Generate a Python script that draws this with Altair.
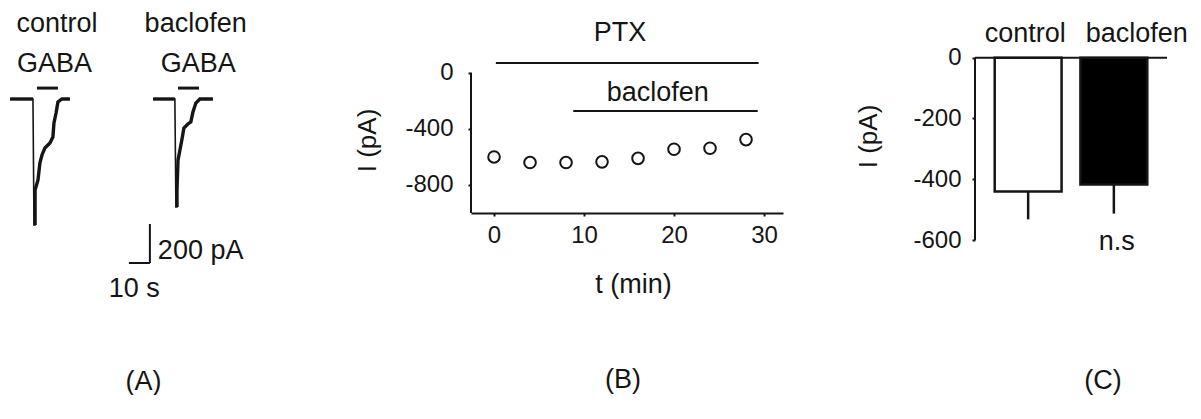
import altair as alt
import pandas as pd

FONT = "Liberation Sans"
INK = "#151515"

# ---------------- Panel A: GABA-evoked current traces (t in s, I in pA)
ctrl_t = [4.8, 15.7, 16.2, 16.7, 16.7, 18.1, 19.0, 20.0, 21.4, 23.8, 25.2, 25.7, 26.7, 27.6, 29.5, 33.3]
ctrl_I = [0, 0, -646, -646, -467, -415, -328, -287, -251, -226, -195, -123, -72, -15, 0, 0]
bac_t = [72.9, 83.3, 83.8, 84.3, 84.3, 84.8, 85.7, 86.7, 87.6, 89.5, 90.9, 91.9, 93.3, 95.2, 101.4]
bac_I = [0, 0, -554, -554, -467, -313, -262, -205, -149, -128, -118, -67, -21, 0, 0]
gaba_start = [17.6, 84.8]
gaba_end = [27.6, 94.8]
gaba_level = [56, 56]
a_labels = ["control", "GABA", "baclofen", "GABA"]
a_label_t = [27.1, 26.0, 93.2, 94.4]
a_label_I = [385, 179, 385, 179]
sb_t0 = [61.4, 71.4]
sb_t1 = [71.4, 71.4]
sb_I0 = [-841, -841]
sb_I1 = [-841, -641]
sb_labels = ["200 pA", "10 s"]
sb_label_t = [75.2, 64.0]
sb_label_I = [-779, -974]

# ---------------- Panel B: time course
b_t = [0, 4, 8, 12, 16, 20, 24, 28]
b_I = [-600, -640, -640, -635, -610, -545, -538, -476]
bar_names = ["PTX", "baclofen"]
bar_t0 = [0.2, 8.8]
bar_t1 = [29.4, 29.3]
bar_I = [71, -272]
bar_label_t = [14.0, 18.2]
bar_label_I = [285, -143]

# ---------------- Panel C: mean currents
cats = ["control", "baclofen"]
means = [-440, -417]
err_end = [-532, -513]
fills = ["white", "black"]

# ======== Panel A
xA = alt.Scale(domain=[0, 132.9], nice=False, zero=False)
yA = alt.Scale(domain=[-1030.8, 507.7], nice=False, zero=False)

traces = pd.concat([
    pd.DataFrame({"trace": "control", "order": range(len(ctrl_t)), "t": ctrl_t, "I": ctrl_I}),
    pd.DataFrame({"trace": "baclofen", "order": range(len(bac_t)), "t": bac_t, "I": bac_I}),
])
A_thin = alt.Chart(traces).mark_line(color=INK, strokeWidth=1.6).encode(
    x=alt.X("t:Q", scale=xA, axis=None),
    y=alt.Y("I:Q", scale=yA, axis=None),
    detail="trace:N",
    order="order:Q",
)
A_thick = alt.Chart(traces).transform_filter("datum.order != 2").transform_calculate(
    seg="datum.trace + (datum.order <= 1 ? '_base' : '_rec')"
).mark_line(color=INK, strokeWidth=3.4).encode(
    x=alt.X("t:Q", scale=xA, axis=None),
    y=alt.Y("I:Q", scale=yA, axis=None),
    detail="seg:N",
    order="order:Q",
)
gdf = pd.DataFrame({"t0": gaba_start, "t1": gaba_end, "I": gaba_level})
A_gaba = alt.Chart(gdf).mark_rule(color=INK, strokeWidth=3).encode(
    x=alt.X("t0:Q", scale=xA, axis=None), x2="t1:Q",
    y=alt.Y("I:Q", scale=yA, axis=None),
)
adf = pd.DataFrame({"label": a_labels, "t": a_label_t, "I": a_label_I})
A_text = alt.Chart(adf).mark_text(font=FONT, fontSize=27, color=INK, align="center", baseline="middle").encode(
    x=alt.X("t:Q", scale=xA, axis=None), y=alt.Y("I:Q", scale=yA, axis=None), text="label:N"
)
sbdf = pd.DataFrame({"t0": sb_t0, "t1": sb_t1, "I0": sb_I0, "I1": sb_I1})
A_sb = alt.Chart(sbdf).mark_rule(color=INK, strokeWidth=2).encode(
    x=alt.X("t0:Q", scale=xA, axis=None), x2="t1:Q",
    y=alt.Y("I0:Q", scale=yA, axis=None), y2="I1:Q",
)
sbl = pd.DataFrame({"label": sb_labels, "t": sb_label_t, "I": sb_label_I})
A_sbl1 = alt.Chart(sbl.iloc[[0]]).mark_text(font=FONT, fontSize=27, color=INK, align="left", baseline="middle").encode(
    x=alt.X("t:Q", scale=xA, axis=None), y=alt.Y("I:Q", scale=yA, axis=None), text="label:N"
)
A_sbl2 = alt.Chart(sbl.iloc[[1]]).mark_text(font=FONT, fontSize=27, color=INK, align="center", baseline="middle").encode(
    x=alt.X("t:Q", scale=xA, axis=None), y=alt.Y("I:Q", scale=yA, axis=None), text="label:N"
)

def panel_title(txt, offset, dx):
    return alt.TitleParams(txt, orient="bottom", anchor="middle", frame="group", offset=offset, dx=dx,
                           font=FONT, fontSize=27, fontWeight="normal", color=INK)

panelA = alt.layer(A_thin, A_thick, A_gaba, A_text, A_sb, A_sbl1, A_sbl2).properties(
    width=279, height=300, title=panel_title("(A)", 67, 4)
)

# ======== Panel B
xB = alt.Scale(domain=[-2.56, 32.11], nice=False, zero=False)
yB = alt.Scale(domain=[-1000, 520], nice=False, zero=False)
bdf = pd.DataFrame({"t": b_t, "I": b_I})
B_pts = alt.Chart(bdf).mark_point(shape="circle", filled=False, size=135, strokeWidth=2, color=INK, opacity=1).encode(
    x=alt.X("t:Q", scale=xB, axis=alt.Axis(
        values=[0, 10, 20, 30], title="t (min)", grid=False,
        domainColor=INK, domainWidth=2, tickColor=INK, tickWidth=2, tickSize=3,
        labelPadding=7, labelFont=FONT, labelFontSize=24, labelColor=INK,
        titleFont=FONT, titleFontSize=27, titleFontWeight="normal", titleColor=INK,
        titlePadding=24, titleX=162)),
    y=alt.Y("I:Q", scale=yB, axis=alt.Axis(
        values=[0, -400, -800], title="I (pA)", grid=False, domain=False,
        tickColor=INK, tickWidth=2, tickSize=3, labelExpr="toString(datum.value)",
        labelPadding=15, labelFont=FONT, labelFontSize=24, labelColor=INK,
        titleFont=FONT, titleFontSize=26, titleFontWeight="normal", titleColor=INK,
        titleX=-104, titleY=140, titleAlign="center", titleBaseline="middle")),
)
axB = pd.DataFrame({"y0": [0], "y1": [-1000]})
B_axis = alt.Chart(axB).mark_rule(color=INK, strokeWidth=2).encode(
    x=alt.value(0), y=alt.Y("y0:Q", scale=yB), y2="y1:Q"
)
bl = pd.DataFrame({"name": bar_names, "t0": bar_t0, "t1": bar_t1, "I": bar_I,
                   "lt": bar_label_t, "lI": bar_label_I})
B_bars = alt.Chart(bl).mark_rule(color=INK, strokeWidth=2).encode(
    x=alt.X("t0:Q", scale=xB), x2="t1:Q", y=alt.Y("I:Q", scale=yB)
)
B_text = alt.Chart(bl).mark_text(font=FONT, fontSize=27, color=INK, align="center", baseline="middle").encode(
    x=alt.X("lt:Q", scale=xB), y=alt.Y("lI:Q", scale=yB), text="name:N"
)
panelB = alt.layer(B_pts, B_axis, B_bars, B_text).properties(
    width=312, height=213, title=panel_title("(B)", 70, -4)
)

# ======== Panel C
xC = alt.Scale(domain=cats, paddingInner=0.22, paddingOuter=0.23)
yC = alt.Scale(domain=[-600, 190], nice=False, zero=False)
cdf = pd.DataFrame({"cat": cats, "mean": means, "err": err_end, "zero": [0, 0]})
C_bars = alt.Chart(cdf).mark_bar(stroke=INK, strokeWidth=2.5).encode(
    x=alt.X("cat:N", scale=xC, axis=None, sort=cats),
    y=alt.Y("mean:Q", scale=yC, axis=alt.Axis(
        values=[0, -200, -400, -600], title="I (pA)", grid=False, domain=False,
        tickColor=INK, tickWidth=2, tickSize=3, labelExpr="toString(datum.value)",
        labelPadding=11, labelFont=FONT, labelFontSize=24, labelColor=INK,
        titleFont=FONT, titleFontSize=26, titleFontWeight="normal", titleColor=INK,
        titleX=-107, titleY=136, titleAlign="center", titleBaseline="middle")),
    y2="zero:Q",
    fill=alt.Fill("cat:N", scale=alt.Scale(domain=cats, range=fills), legend=None),
)
C_err = alt.Chart(cdf).mark_rule(color=INK, strokeWidth=2.5).encode(
    x=alt.X("cat:N", scale=xC, sort=cats), y=alt.Y("mean:Q", scale=yC), y2="err:Q"
)
C_zero = alt.Chart(pd.DataFrame({"zero": [0]})).mark_rule(color=INK, strokeWidth=2).encode(
    y=alt.Y("zero:Q", scale=yC)
)
C_axis = alt.Chart(pd.DataFrame({"y0": [0], "y1": [-600]})).mark_rule(color=INK, strokeWidth=2).encode(
    x=alt.value(0), y=alt.Y("y0:Q", scale=yC), y2="y1:Q"
)
cl = pd.DataFrame({"cat": cats, "lab": cats, "ly": [78, 78]})
C_lab1 = alt.Chart(cl.iloc[[0]]).mark_text(font=FONT, fontSize=27, color=INK, align="center", baseline="middle", dx=-3).encode(
    x=alt.X("cat:N", scale=xC, sort=cats), y=alt.Y("ly:Q", scale=yC), text="lab:N"
)
C_lab2 = alt.Chart(cl.iloc[[1]]).mark_text(font=FONT, fontSize=27, color=INK, align="center", baseline="middle", dx=23).encode(
    x=alt.X("cat:N", scale=xC, sort=cats), y=alt.Y("ly:Q", scale=yC), text="lab:N"
)
ns = pd.DataFrame({"cat": ["baclofen"], "lab": ["n.s"], "ly": [-608]})
C_ns = alt.Chart(ns).mark_text(font=FONT, fontSize=27, color=INK, align="center", baseline="middle", dx=3).encode(
    x=alt.X("cat:N", scale=xC, sort=cats), y=alt.Y("ly:Q", scale=yC), text="lab:N"
)
panelC = alt.layer(C_bars, C_err, C_zero, C_axis, C_lab1, C_lab2, C_ns).properties(
    width=192, height=240, title=panel_title("(C)", 113, 32)
)

chart = alt.hconcat(panelA, panelB, panelC, spacing=192, bounds="flush").properties(
    padding=0
).configure_view(strokeWidth=0)

chart.save("out.html", embed_options={"renderer": "svg", "actions": False})
